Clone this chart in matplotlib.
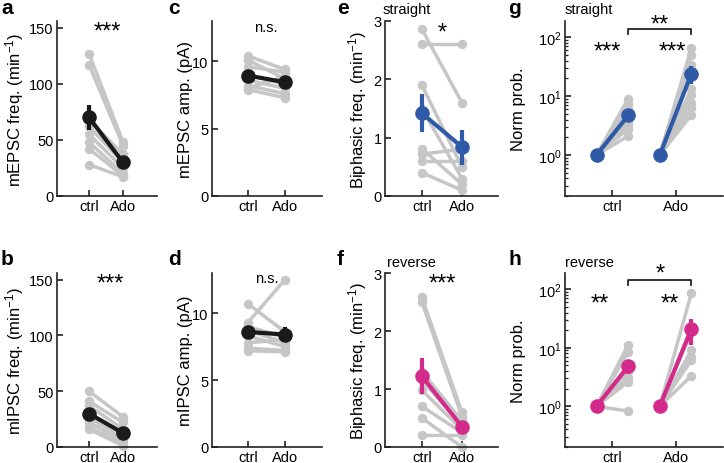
import matplotlib
matplotlib.use('Agg')
import matplotlib.pyplot as plt

plt.rcParams['font.family'] = ['Liberation Sans', 'DejaVu Sans']
plt.rcParams['mathtext.fontset'] = 'custom'
plt.rcParams['mathtext.rm'] = 'Liberation Sans'
plt.rcParams['mathtext.it'] = 'Liberation Sans:italic'
plt.rcParams['mathtext.default'] = 'regular'

# ---------------- data ----------------
conditions = ['ctrl', 'Ado']

# a: mEPSC frequency (min^-1)
a_ctrl = [127, 117, 68, 62, 55, 48, 42, 28]
a_ado = [48, 45, 37, 30, 25, 20, 18, 17]
a_mean = [70, 30]
a_err = [11.5, 4]

# b: mIPSC frequency (min^-1)
b_ctrl = [50, 41, 37, 30, 26, 22, 18, 16]
b_ado = [27, 22, 16, 12, 9, 6, 3, 1]
b_mean = [30, 12.5]
b_err = [3.5, 2.5]

# c: mEPSC amplitude (pA)
c_ctrl = [10.4, 10.1, 9.6, 9.0, 8.6, 8.2, 7.9, 8.0]
c_ado = [9.4, 8.7, 9.2, 8.3, 8.0, 7.6, 7.3, 8.9]
c_mean = [8.95, 8.45]
c_err = [0.3, 0.25]

# d: mIPSC amplitude (pA)
d_ctrl = [10.7, 9.3, 9.0, 8.7, 8.3, 7.8, 7.4, 7.2, 8.9]
d_ado = [8.6, 12.5, 8.2, 7.8, 7.5, 8.0, 7.2, 7.1, 8.2]
d_mean = [8.6, 8.4]
d_err = [0.3, 0.55]

# e: biphasic frequency, straight (min^-1)
e_ctrl = [2.86, 2.6, 1.9, 1.5, 0.81, 0.72, 0.6, 0.4]
e_ado = [1.6, 2.6, 0.5, 0.3, 0.2, 0.8, 0.6, 0.1]
e_mean = [1.42, 0.84]
e_err = [0.33, 0.3]

# f: biphasic frequency, reverse (min^-1)
f_ctrl = [2.58, 2.5, 1.3, 1.15, 0.98, 0.7, 0.5, 0.2]
f_ado = [0.6, 0.52, 0.45, 0.38, 0.3, 0.25, 0.0, 0.2]
f_mean = [1.22, 0.35]
f_err = [0.31, 0.07]

# g: normalized probability, straight (log)
g_ref = [1, 1, 1, 1, 1, 1, 1, 1, 1]
g_ctrl = [9.1, 7.4, 6.0, 4.9, 4.2, 3.6, 3.2, 2.8, 2.1]
g_ado = [66, 51, 34, 28, 13, 10.5, 7.6, 6.3, 4.8]
g_mean = [4.7, 24]
g_err = [0.7, 8]

# h: normalized probability, reverse (log)
h_ref = [1, 1, 1, 1, 1, 1, 1]
h_ctrl = [11.3, 8.4, 5.0, 3.8, 3.0, 2.6, 0.82]
h_ado = [86, 22, 18.6, 9, 6.9, 6.1, 3.3]
h_mean = [4.8, 21]
h_err = [1.2, 10]

# ---------------- style ----------------
GREY = '#c6c6c6'
BLACK = '#1a1a1a'
BLUE = '#2f5aa8'
PINK = '#d42a8b'
SPINE = '#222222'
W, H = 724, 464
G_LW, G_MS = 2.5, 6.8
M_LW, M_MS = 3.0, 10.5

fig = plt.figure(figsize=(W / 100, H / 100), dpi=100)


def add_ax(l, t, r, b):
    return fig.add_axes([l / W, 1 - b / H, (r - l) / W, (b - t) / H])


def ftext(x, y, s, **kw):
    fig.text(x / W, 1 - y / H, s, **kw)


def style(ax, ylabel, lx):
    for sp in ['top', 'right']:
        ax.spines[sp].set_visible(False)
    for sp in ['left', 'bottom']:
        ax.spines[sp].set_linewidth(1.2)
        ax.spines[sp].set_color(SPINE)
    ax.tick_params(direction='in', length=4, width=1.2, labelsize=10.5,
                   pad=2.5, color=SPINE)
    ax.tick_params(which='minor', direction='in', length=2.5, width=0.9,
                   color=SPINE)
    ax.set_ylabel(ylabel, fontsize=12, va='center')
    ax.yaxis.set_label_coords(lx, 0.5)


def paired(ax, ctrl, ado, mean, err, color):
    x = [1, 2]
    for c, a in zip(ctrl, ado):
        ax.plot(x, [c, a], '-o', color=GREY, lw=G_LW, ms=G_MS, mec='none',
                zorder=2, clip_on=False)
    ax.errorbar(x, mean, yerr=err, fmt='-o', color=color, lw=M_LW, ms=M_MS,
                mec='none', elinewidth=M_LW, capsize=0, zorder=3)
    ax.set_xticks(x)
    ax.set_xticklabels(conditions)


def lognorm(ax, ref, ctrl, ado, mean, err, color):
    for r, c in zip(ref, ctrl):
        ax.plot([0.75, 1.25], [r, c], '-o', color=GREY, lw=G_LW, ms=G_MS,
                mec='none', zorder=2)
    for r, a in zip(ref, ado):
        ax.plot([1.75, 2.25], [r, a], '-o', color=GREY, lw=G_LW, ms=G_MS,
                mec='none', zorder=2)
    for i, xs in enumerate([(0.75, 1.25), (1.75, 2.25)]):
        ax.errorbar(list(xs), [ref[0], mean[i]], yerr=[0, err[i]], fmt='-o',
                    color=color, lw=M_LW, ms=M_MS, mec='none',
                    elinewidth=M_LW, capsize=0, zorder=3)
    ax.set_yscale('log')
    ax.set_xticks([1, 2])
    ax.set_xticklabels(conditions)
    ax.set_xlim(0.25, 2.75)
    ax.set_ylim(0.2, 190)
    ax.set_yticks([1, 10, 100])


# column geometry (pixels)
cols = [(57, 157), (212, 322), (385, 498), (565, 723)]
rows = [(22, 197), (274, 448)]

# a
ax = add_ax(cols[0][0], rows[0][0], cols[0][1], rows[0][1])
paired(ax, a_ctrl, a_ado, a_mean, a_err, BLACK)
ax.set_xlim(0.06, 3.0); ax.set_ylim(0, 156); ax.set_yticks([0, 50, 100, 150])
style(ax, 'mEPSC freq. (min$^{-1}$)', -0.42)
# b
ax = add_ax(cols[0][0], rows[1][0], cols[0][1], rows[1][1])
paired(ax, b_ctrl, b_ado, b_mean, b_err, BLACK)
ax.set_xlim(0.06, 3.0); ax.set_ylim(0, 156); ax.set_yticks([0, 50, 100, 150])
style(ax, 'mIPSC freq. (min$^{-1}$)', -0.42)
# c
ax = add_ax(cols[1][0], rows[0][0], cols[1][1], rows[0][1])
paired(ax, c_ctrl, c_ado, c_mean, c_err, BLACK)
ax.set_xlim(0.03, 3.0); ax.set_ylim(0, 13); ax.set_yticks([0, 5, 10])
style(ax, 'mEPSC amp. (pA)', -0.245)
# d
ax = add_ax(cols[1][0], rows[1][0], cols[1][1], rows[1][1])
paired(ax, d_ctrl, d_ado, d_mean, d_err, BLACK)
ax.set_xlim(0.03, 3.0); ax.set_ylim(0, 13); ax.set_yticks([0, 5, 10])
style(ax, 'mIPSC amp. (pA)', -0.245)
# e
ax = add_ax(cols[2][0], rows[0][0], cols[2][1], rows[0][1])
paired(ax, e_ctrl, e_ado, e_mean, e_err, BLUE)
ax.set_xlim(0.08, 2.9); ax.set_ylim(0, 3); ax.set_yticks([0, 1, 2, 3])
style(ax, 'Biphasic freq. (min$^{-1}$)', -0.239)
# f
ax = add_ax(cols[2][0], rows[1][0], cols[2][1], rows[1][1])
paired(ax, f_ctrl, f_ado, f_mean, f_err, PINK)
ax.set_xlim(0.08, 2.9); ax.set_ylim(0, 3); ax.set_yticks([0, 1, 2, 3])
style(ax, 'Biphasic freq. (min$^{-1}$)', -0.239)
# g
axg = add_ax(cols[3][0], rows[0][0], cols[3][1], rows[0][1])
lognorm(axg, g_ref, g_ctrl, g_ado, g_mean, g_err, BLUE)
style(axg, 'Norm prob.', -0.297)
axg.plot([1.25, 1.25, 2.25, 2.25], [112, 137, 137, 112], color=SPINE,
         lw=1.3, clip_on=False)
# h
axh = add_ax(cols[3][0], rows[1][0], cols[3][1], rows[1][1])
lognorm(axh, h_ref, h_ctrl, h_ado, h_mean, h_err, PINK)
style(axh, 'Norm prob.', -0.297)
axh.plot([1.25, 1.25, 2.25, 2.25], [117, 142, 142, 117], color=SPINE,
         lw=1.3, clip_on=False)

# panel letters
for s, x, y in [('a', 1, 14), ('c', 168, 14), ('e', 337, 14), ('g', 508, 14),
                ('b', 1, 265), ('d', 168, 265), ('f', 337, 265), ('h', 508, 265)]:
    ftext(x, y, s, fontsize=15, fontweight='bold', ha='left', va='baseline')

# significance marks (centre x, baseline y in pixels)
STAR = 17
for s, x, y in [('***', 107, 39), ('***', 110, 291), ('*', 442, 40),
                ('***', 442, 291), ('***', 607, 59), ('***', 672, 59),
                ('**', 660, 32), ('**', 600, 311), ('**', 670, 311),
                ('*', 660, 281)]:
    ftext(x, y, s, fontsize=STAR, ha='center', va='baseline')
for x, y in [(266, 32), (267, 283)]:
    ftext(x, y, 'n.s.', fontsize=10.5, ha='center', va='baseline')

# condition notes
for s, x, y in [('straight', 383, 14), ('straight', 565, 14),
                ('reverse', 387, 267), ('reverse', 565, 267)]:
    ftext(x, y, s, fontsize=10.5, ha='left', va='baseline')

fig.savefig('out.png', dpi=100)
